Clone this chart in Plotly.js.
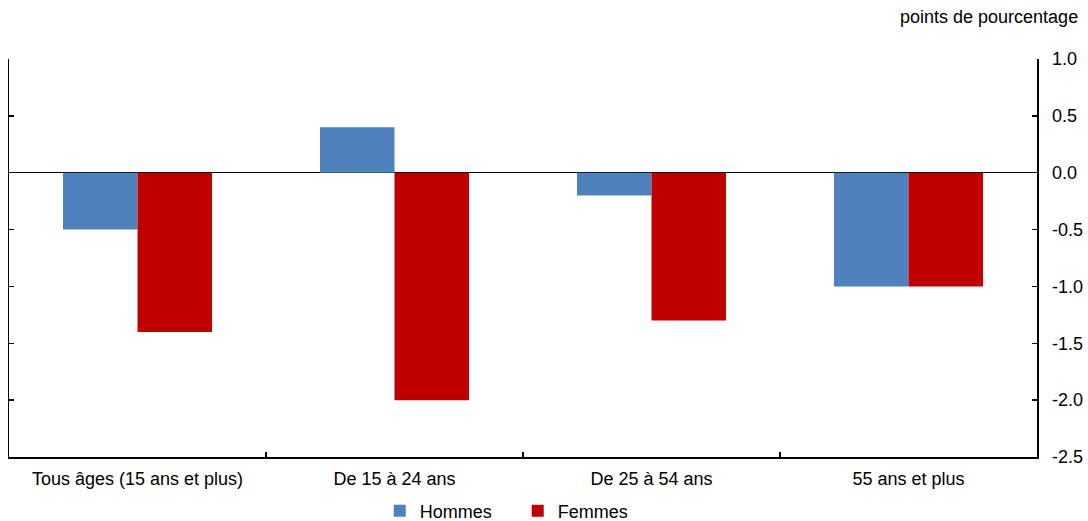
<!DOCTYPE html>
<html>
<head>
<meta charset="utf-8">
<script src="https://cdn.plot.ly/plotly-3.0.1.min.js"></script>
<style>html,body{margin:0;padding:0;background:#fff;}#chart{width:1088px;height:521px;}</style>
</head>
<body>
<div id="chart"></div>
<script>
const categories = ["Tous âges (15 ans et plus)", "De 15 à 24 ans", "De 25 à 54 ans", "55 ans et plus"];
const hommes = [-0.5, 0.4, -0.2, -1.0];
const femmes = [-1.4, -2.0, -1.3, -1.0];
const tickValues = [1.0, 0.5, 0.0, -0.5, -1.0, -1.5, -2.0, -2.5];
const tickLabels = ["1.0", "0.5", "0.0", "-0.5", "-1.0", "-1.5", "-2.0", "-2.5"];
const unitLabel = "points de pourcentage";

const font = {family: "Liberation Sans, Arial, sans-serif", size: 18, color: "#000"};

const data = [
  {type: "bar", name: "Hommes", x: categories, y: hommes, marker: {color: "#4f81bd"}},
  {type: "bar", name: "Femmes", x: categories, y: femmes, marker: {color: "#c00000"}}
];

const layout = {
  width: 1088, height: 521,
  margin: {l: 9, r: 51, t: 59, b: 64, autoexpand: false},
  paper_bgcolor: "#fff", plot_bgcolor: "#fff",
  font: font,
  barmode: "group",
  bargap: 0.42,
  bargroupgap: 0,
  showlegend: true,
  legend: {
    orientation: "h", xref: "container", x: 0.349, xanchor: "left",
    yref: "paper", y: -0.1357, yanchor: "middle",
    font: font, itemwidth: 30, entrywidth: 93, entrywidthmode: "pixels",
    bgcolor: "rgba(0,0,0,0)"
  },
  xaxis: {
    showline: true, linecolor: "#000", linewidth: 1.5,
    ticks: "inside", ticklen: 5, tickcolor: "#000", tickwidth: 1.5,
    tickson: "boundaries", showgrid: false, zeroline: false,
    ticklabelstandoff: 5,
    tickfont: font, fixedrange: true
  },
  yaxis: {
    side: "right", range: [-2.5, 1.0],
    tickvals: tickValues, ticktext: tickLabels,
    showline: true, linecolor: "#000", linewidth: 1.5, mirror: "ticks",
    ticks: "inside", ticklen: 5, tickcolor: "#000", tickwidth: 1.5,
    ticklabelstandoff: 10,
    showgrid: false, zeroline: true, zerolinecolor: "#000", zerolinewidth: 1.5,
    tickfont: font, fixedrange: true
  },
  annotations: [{
    text: unitLabel, xref: "paper", yref: "paper", x: 1.0, y: 1.0,
    xanchor: "right", yanchor: "bottom", xshift: 43, yshift: 30, showarrow: false, font: font
  }]
};

Plotly.newPlot("chart", data, layout, {displayModeBar: false, staticPlot: true});
</script>
</body>
</html>
